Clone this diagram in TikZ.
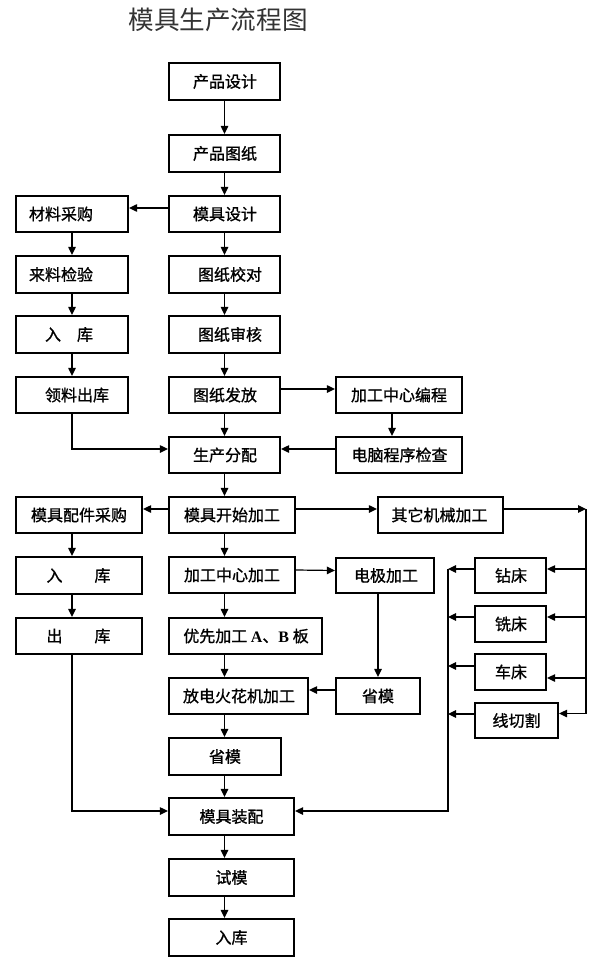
\documentclass[tikz,border=0pt]{standalone}
\usepackage{fontspec}
\setmainfont{Noto Sans CJK SC}[BoldFont={Noto Sans CJK SC}, BoldFeatures={FakeBold=1.1}]
\newfontfamily\latinb{Liberation Serif}
\usetikzlibrary{arrows.meta}
\tikzset{
  box/.style={draw, line width=2.2pt, inner sep=0pt},
  txt/.style={font=\fontsize{16}{16}\selectfont\bfseries, inner sep=0pt},
  con/.style={line width=1.2pt, -{Triangle[length=8pt,width=7.5pt]}},
  bus/.style={line width=1.8pt},
  thinbus/.style={line width=1.3pt},
}
\newcommand\bx[7]{%
  \pgfmathsetmacro\bw{#4-#2}\pgfmathsetmacro\bh{#5-#3}%
  \pgfmathsetmacro\bcx{(#2+#4)/2}\pgfmathsetmacro\bcy{(#3+#5)/2}%
  \node[box, minimum width=\bw pt, minimum height=\bh pt] (#1) at (\bcx,\bcy) {};
  \node[txt] (#1t) at (#6,\bcy) {#7};}
\begin{document}
\begin{tikzpicture}[x=1pt,y=-1pt]
\useasboundingbox (0,0) rectangle (594,960);
\node[font=\fontsize{25.6}{26}\selectfont, text=black!80, inner sep=0pt] (title) at (218,20) {模具生产流程图};
% centre column
\bx{p1}{169}{63}{280}{100}{225}{产品设计}
\bx{p2}{169}{135}{280}{172}{225}{产品图纸}
\bx{p3}{169}{196}{280}{232}{225}{模具设计}
\bx{p4}{169}{256}{280}{293}{230}{图纸校对}
\bx{p5}{169}{316}{280}{353}{230}{图纸审核}
\bx{p6}{169}{377}{280}{413}{225}{图纸发放}
\bx{p7}{169}{437}{280}{473}{225}{生产分配}
\bx{p8}{169}{497}{295}{533}{232}{模具开始加工}
\bx{p9}{169}{557}{295}{593}{232}{加工中心加工}
\bx{p10}{169}{618}{322}{654}{246}{优先加工 {\latinb\bfseries A}、{\latinb\bfseries B} 板}
\bx{p11}{169}{678}{308}{714}{239}{放电火花机加工}
\bx{p12}{169}{738}{281}{775}{225}{省模}
\bx{p13}{169}{798}{294}{835}{231.5}{模具装配}
\bx{p14}{169}{859}{294}{896}{231.5}{试模}
\bx{p15}{169}{919}{294}{956}{231.5}{入库}
% left column
\bx{l1}{16}{196}{128}{232}{61}{材料采购}
\bx{l2}{16}{256}{128}{293}{61}{来料检验}
\bx{l3}{16}{316}{128}{353}{69}{入\hspace{1em}库}
\bx{l4}{16}{377}{128}{413}{77}{领料出库}
\bx{m1}{16}{497}{142}{533}{79}{模具配件采购}
\bx{m2}{16}{557}{142}{594}{78.5}{入\hspace{2em}库}
\bx{m3}{16}{618}{142}{654}{78.5}{出\hspace{2em}库}
% right side
\bx{r1}{336}{377}{462}{413}{399}{加工中心编程}
\bx{r2}{336}{437}{462}{473}{399.5}{电脑程序检查}
\bx{e1}{378}{497}{503}{533}{439.5}{其它机械加工}
\bx{e2}{336}{558}{434}{593}{386}{电极加工}
\bx{e3}{336}{678}{420}{714}{378}{省模}
\bx{k1}{475}{558}{546}{593}{511}{钻床}
\bx{k2}{475}{606}{546}{642}{511}{铣床}
\bx{k3}{475}{654}{546}{690}{511}{车床}
\bx{k4}{475}{703}{558}{738}{516.5}{线切割}
\coordinate (rb) at (586,509);
\coordinate (lb) at (448,569);
% centre column arrows
\foreach \a/\b in {p1/p2,p2/p3,p3/p4,p4/p5,p5/p6,p6/p7}
  \draw[con] (\a.south) -- (\b.north);
\foreach \a/\b in {p7/p8,p8/p9,p9/p10,p10/p11,p11/p12,p12/p13,p13/p14,p14/p15}
  \draw[con] (\a.south -| p7.south) -- (\b.north -| p7.south);
% left column
\draw[con] ([yshift=6pt]p3.west) -- ([yshift=6pt]l1.east);
\foreach \a/\b in {l1/l2,l2/l3,l3/l4}
  \draw[con] (\a.south) -- (\b.north);
\draw[bus] (l4.south) |- ([yshift=6pt,xshift=-8pt]p7.west);
\draw[con] ([yshift=6pt,xshift=-9pt]p7.west) -- ([yshift=6pt]p7.west);
\draw[con] ([yshift=6pt]p8.west) -- ([yshift=6pt]m1.east);
\foreach \a/\b in {m1/m2,m2/m3}
  \draw[con] (\a.south -| l1.south) -- (\b.north -| l1.south);
\draw[bus] (m3.south -| l1.south) |- ([yshift=5.5pt,xshift=-8pt]p13.west);
\draw[con] ([yshift=5.5pt,xshift=-9pt]p13.west) -- ([yshift=5.5pt]p13.west);
% right upper
\draw[con] ([yshift=6pt]p6.east) -- ([yshift=6pt]r1.east -| r1.west);
\draw[con] ([xshift=-7pt]r1.south) -- ([xshift=-7pt]r2.north);
\draw[con] ([yshift=6pt]r2.west) -- ([yshift=6pt]p7.east);
% machining
\draw[con] ([yshift=6pt]p8.east) -- ([yshift=6pt]e1.west);
\draw[con] ([yshift=5pt]p9.east) -- ([yshift=5pt]e2.west);
\draw[con] (e2.south -| e3.north) -- (e3.north);
\draw[con] ([yshift=6pt]e3.west) -- ([yshift=6pt]p11.east);
% right bus
\draw[con] ([yshift=6pt]e1.east) -- (rb);
\draw[thinbus] (rb) -- ([yshift=7pt]k4.east -| rb);
\draw[con] ([yshift=6.5pt]k1.east -| rb) -- ([yshift=6.5pt]k1.east);
\draw[con] ([yshift=7pt]k2.east -| rb) -- ([yshift=7pt]k2.east);
\draw[con] ([yshift=-6pt]k3.east -| rb) -- ([yshift=-6pt]k3.east);
\draw[con] ([yshift=7pt]k4.east -| rb) -- ([yshift=7pt]k4.east);
% left bus
\draw[con] ([yshift=6.5pt]k1.west) -- ([yshift=6.5pt]k1.west -| lb);
\draw[con] ([yshift=7pt]k2.west) -- ([yshift=7pt]k2.west -| lb);
\draw[con] ([yshift=6pt]k3.west) -- ([yshift=6pt]k3.west -| lb);
\draw[con] ([yshift=6.5pt]k4.west) -- ([yshift=6.5pt]k4.west -| lb);
\draw[bus] (lb) |- ([yshift=5.5pt,xshift=8pt]p13.east);
\draw[con] ([yshift=5.5pt,xshift=9pt]p13.east) -- ([yshift=5.5pt]p13.east);
\end{tikzpicture}
\end{document}
